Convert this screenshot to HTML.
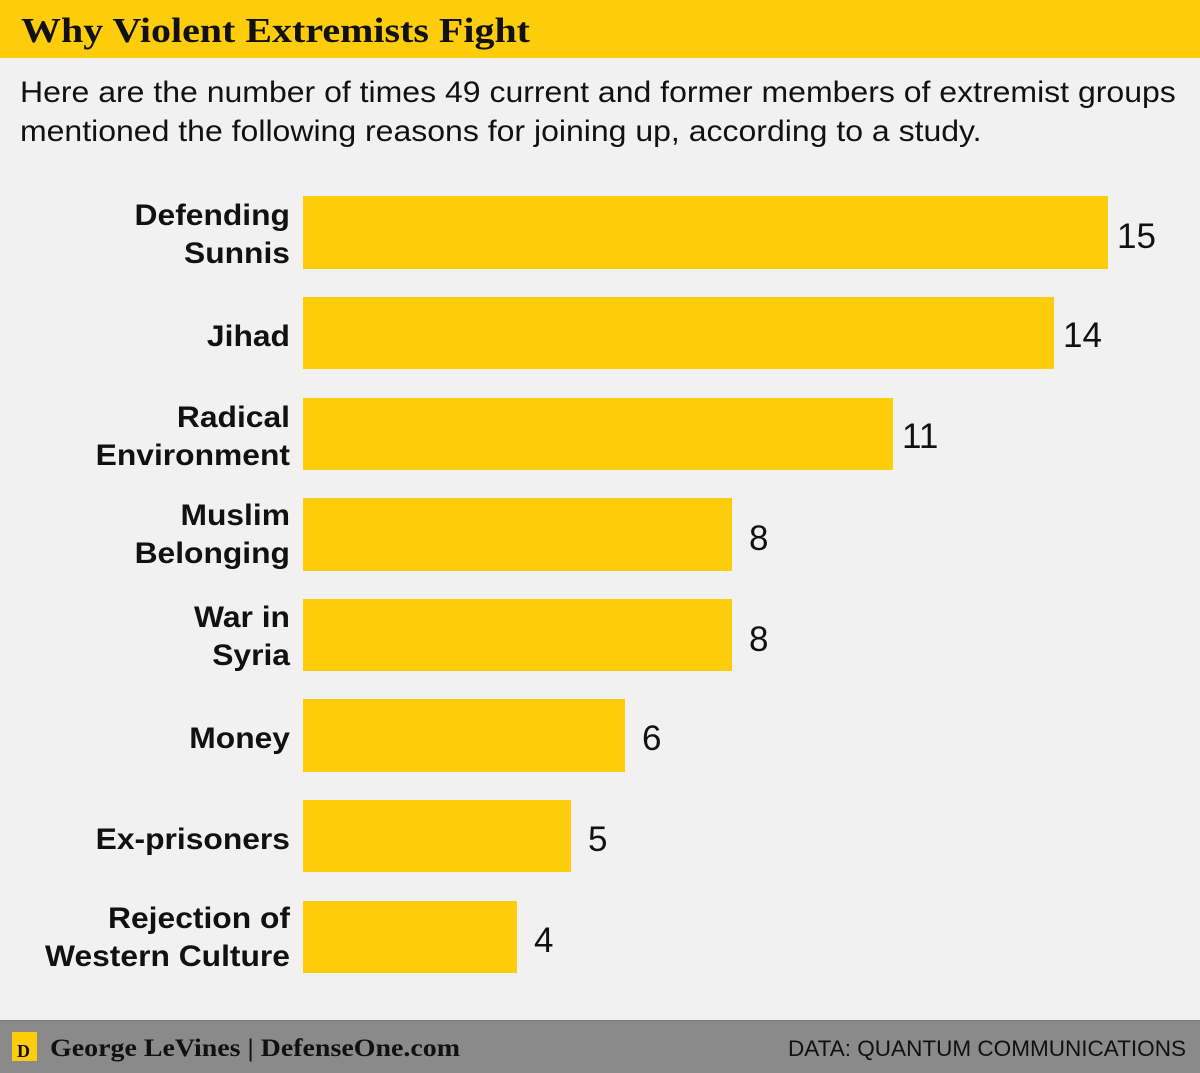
<!DOCTYPE html>
<html><head><meta charset="utf-8"><style>
body{margin:0;width:1200px;height:1073px;overflow:hidden;background:#f1f1f1}
svg{display:block}
</style></head><body>
<svg width="1200" height="1073" xmlns="http://www.w3.org/2000/svg">
<rect width="1200" height="1073" fill="#f1f1f1"/>
<rect width="1200" height="58" fill="#fdcd0b"/>
<text x="21" y="42" font-family="'Liberation Serif',serif" font-weight="bold" font-size="35" fill="#111" textLength="509" lengthAdjust="spacingAndGlyphs">Why Violent Extremists Fight</text>
<g font-family="'Liberation Sans',sans-serif" font-size="29.5" fill="#111" transform="translate(20,0) scale(1.085,1) translate(-20,0)">
<text x="20" y="102">Here are the number of times 49 current and former members of extremist groups</text>
<text x="20" y="141">mentioned the following reasons for joining up, according to a study.</text>
</g>
<g fill="#fdcd0b">
<rect x="303" y="196" width="805" height="73"/>
<rect x="303" y="297" width="751" height="72"/>
<rect x="303" y="398" width="590" height="72"/>
<rect x="303" y="498" width="429" height="73"/>
<rect x="303" y="599" width="429" height="72"/>
<rect x="303" y="699" width="322" height="73"/>
<rect x="303" y="800" width="268" height="72"/>
<rect x="303" y="901" width="214" height="72"/>
</g>
<g font-family="'Liberation Sans',sans-serif" font-weight="bold" font-size="30" fill="#111" text-anchor="end" transform="translate(290,0) scale(1.06,1) translate(-290,0)">
<text x="290" y="225">Defending</text><text x="290" y="263">Sunnis</text>
<text x="290" y="346">Jihad</text>
<text x="290" y="427">Radical</text><text x="290" y="465">Environment</text>
<text x="290" y="525">Muslim</text><text x="290" y="563">Belonging</text>
<text x="290" y="627">War in</text><text x="290" y="665">Syria</text>
<text x="290" y="748">Money</text>
<text x="290" y="849">Ex-prisoners</text>
<text x="290" y="928">Rejection of</text><text x="290" y="966">Western Culture</text>
</g>
<g font-family="'Liberation Sans',sans-serif" font-size="35" fill="#111">
<text x="1117" y="248">15</text>
<text x="1063" y="347">14</text>
<text x="902" y="448">11</text>
<text x="749" y="550">8</text>
<text x="749" y="651">8</text>
<text x="642" y="750">6</text>
<text x="588" y="851">5</text>
<text x="534" y="952">4</text>
</g>
<rect x="0" y="1020" width="1200" height="53" fill="#8a8a8a"/>
<rect x="0" y="1020" width="1200" height="1" fill="#777"/>
<rect x="12" y="1032" width="25" height="29" fill="#fdcd0b"/>
<text x="17" y="1057" font-family="'Liberation Serif',serif" font-weight="bold" font-size="18" fill="#111">D</text>
<text x="50" y="1056" font-family="'Liberation Serif',serif" font-weight="bold" font-size="25" fill="#111" textLength="410" lengthAdjust="spacingAndGlyphs">George LeVines | DefenseOne.com</text>
<text x="788" y="1056" font-family="'Liberation Sans',sans-serif" font-size="22" fill="#111" textLength="398" lengthAdjust="spacingAndGlyphs">DATA: QUANTUM COMMUNICATIONS</text>
</svg>
</body></html>
